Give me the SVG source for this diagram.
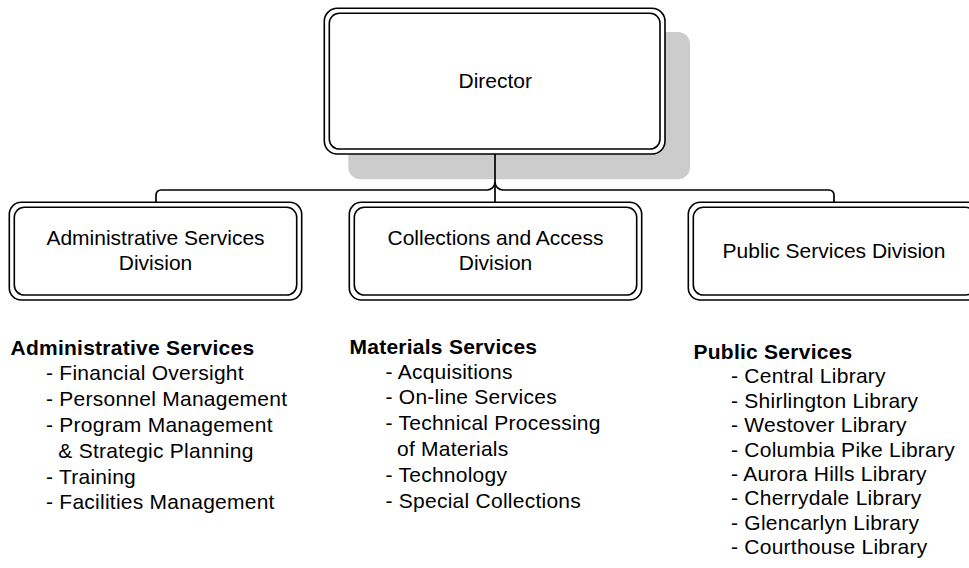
<svg xmlns="http://www.w3.org/2000/svg" width="969" height="568" viewBox="0 0 969 568">
  <style>
    .frame { fill: #ffffff; stroke: #000000; stroke-width: 1.6; }
    .inner { fill: none; stroke: #000000; stroke-width: 1.6; }
    .shadow { fill: #cccccc; stroke: none; }
    .label { font-family: "Liberation Sans", Arial, sans-serif; font-size: 21px; fill: #000000; text-anchor: middle; }
    .list { font-family: "Liberation Sans", Arial, sans-serif; font-size: 21px; fill: #000000; letter-spacing: 0.25px; }
    .head { font-weight: bold; }
    .conn { fill: none; stroke: #000000; stroke-width: 1.7; }
  </style>

  <!-- Director node with drop shadow -->
  <g id="director">
    <rect class="shadow" x="348.3" y="32" width="341.7" height="147.3" rx="12" ry="12"/>
    <rect class="frame" x="324.3" y="8.3" width="340.7" height="145.7" rx="13" ry="13"/>
    <rect class="inner" x="329.3" y="13.3" width="330.7" height="135.7" rx="10" ry="10"/>
    <text class="label" x="495.3" y="87.7">Director</text>
  </g>

  <!-- Reporting lines -->
  <g id="connectors">
    <path class="conn" d="M495,154 V202"/>
    <path class="conn" d="M495,182 A8,8 0 0 1 487,190 H161 A5,5 0 0 0 156,195 V202.3"/>
    <path class="conn" d="M495,182 A8,8 0 0 0 503,190 H829 A5,5 0 0 1 834,195 V202.3"/>
  </g>

  <!-- Division nodes -->
  <g id="admin-division">
    <rect class="frame" x="9.3" y="202.3" width="292.4" height="97.7" rx="12" ry="12"/>
    <rect class="inner" x="14.3" y="207.3" width="282.4" height="87.7" rx="10" ry="10"/>
    <text class="label" x="155.5" y="245">Administrative Services</text>
    <text class="label" x="155.5" y="270">Division</text>
  </g>

  <g id="collections-division">
    <rect class="frame" x="349.3" y="202.3" width="292.4" height="97.7" rx="12" ry="12"/>
    <rect class="inner" x="354.3" y="207.3" width="282.4" height="87.7" rx="10" ry="10"/>
    <text class="label" x="495.5" y="244.5">Collections and Access</text>
    <text class="label" x="495.5" y="270">Division</text>
  </g>

  <g id="public-division">
    <rect class="frame" x="688.3" y="202.3" width="292.4" height="97.7" rx="12" ry="12"/>
    <rect class="inner" x="693.3" y="207.3" width="282.4" height="87.7" rx="10" ry="10"/>
    <text class="label" x="834" y="257.5">Public Services Division</text>
  </g>

  <!-- Responsibilities under each division -->
  <g id="admin-list" class="list">
    <text class="head" x="10.5" y="354.5">Administrative Services</text>
    <text x="46" y="380.3">- Financial Oversight</text>
    <text x="46" y="406.1">- Personnel Management</text>
    <text x="46" y="431.9">- Program Management</text>
    <text x="58.3" y="457.7">&amp; Strategic Planning</text>
    <text x="46" y="483.5">- Training</text>
    <text x="46" y="509.3">- Facilities Management</text>
  </g>

  <g id="materials-list" class="list">
    <text class="head" x="349.5" y="353.5">Materials Services</text>
    <text x="385.5" y="378.5">- Acquisitions</text>
    <text x="385.5" y="404.3">- On-line Services</text>
    <text x="385.5" y="430.1">- Technical Processing</text>
    <text x="397" y="455.9">of Materials</text>
    <text x="385.5" y="481.7">- Technology</text>
    <text x="385.5" y="507.5">- Special Collections</text>
  </g>

  <g id="public-list" class="list">
    <text class="head" x="693.5" y="358.5">Public Services</text>
    <text x="731" y="383.3">- Central Library</text>
    <text x="731" y="407.7">- Shirlington Library</text>
    <text x="731" y="432.1">- Westover Library</text>
    <text x="731" y="456.5">- Columbia Pike Library</text>
    <text x="731" y="480.9">- Aurora Hills Library</text>
    <text x="731" y="505.3">- Cherrydale Library</text>
    <text x="731" y="529.7">- Glencarlyn Library</text>
    <text x="731" y="554.1">- Courthouse Library</text>
  </g>
</svg>
